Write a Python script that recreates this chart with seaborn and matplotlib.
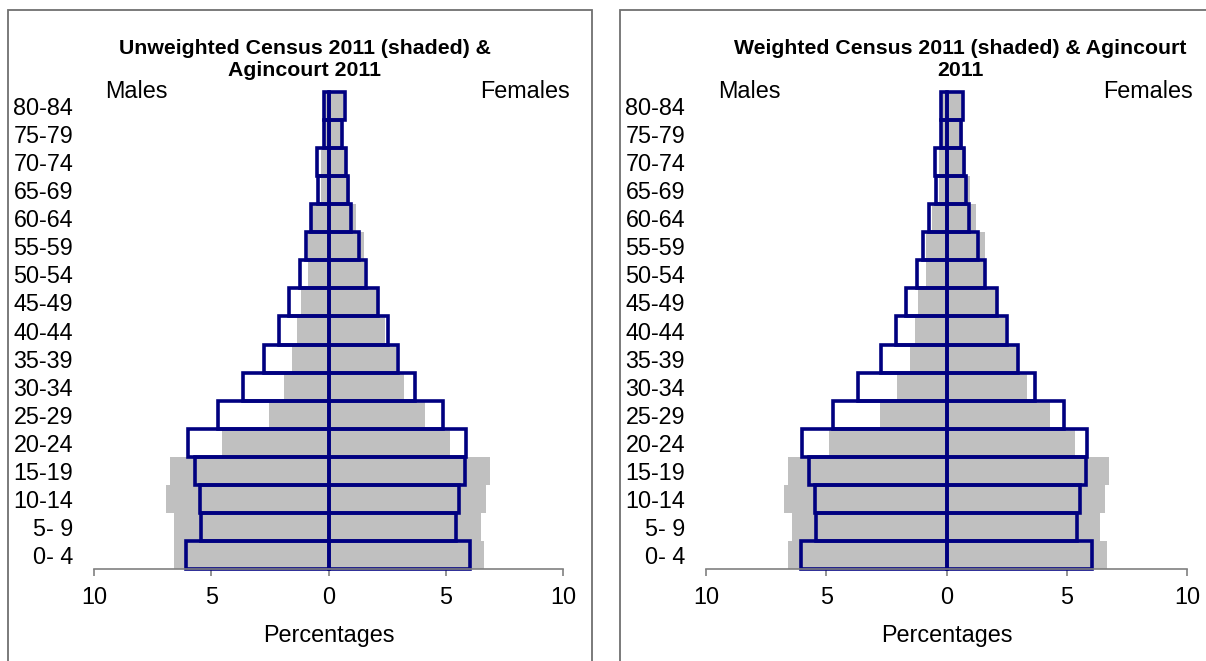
import matplotlib.pyplot as plt
import matplotlib.transforms as mtransforms
from matplotlib.patches import Rectangle
import seaborn as sns

AGE_GROUPS = ["0- 4", "5- 9", "10-14", "15-19", "20-24", "25-29", "30-34", "35-39",
              "40-44", "45-49", "50-54", "55-59", "60-64", "65-69", "70-74", "75-79", "80-84"]

# Agincourt 2011 (outlined bars)
AGIN_MALES = [6.06, 5.44, 5.46, 5.70, 6.01, 4.72, 3.66, 2.73, 2.11, 1.67, 1.21, 0.98, 0.74, 0.44, 0.47, 0.21, 0.21]
AGIN_FEMALES = [6.05, 5.42, 5.57, 5.80, 5.85, 4.89, 3.69, 2.97, 2.53, 2.12, 1.62, 1.29, 0.95, 0.83, 0.74, 0.59, 0.70]

# Census 2011 (shaded bars)
UNW_MALES = [6.58, 6.58, 6.94, 6.78, 4.56, 2.55, 1.91, 1.55, 1.34, 1.18, 0.87, 0.87, 0.70, 0.33, 0.33, 0.20, 0.20]
UNW_FEMALES = [6.63, 6.52, 6.73, 6.90, 5.16, 4.13, 3.22, 2.89, 2.40, 2.08, 1.50, 1.50, 1.18, 0.93, 0.80, 0.60, 0.60]
WGT_MALES = [6.57, 6.42, 6.77, 6.61, 4.89, 2.75, 2.04, 1.53, 1.33, 1.17, 0.85, 0.85, 0.60, 0.32, 0.32, 0.20, 0.20]
WGT_FEMALES = [6.68, 6.37, 6.58, 6.77, 5.35, 4.30, 3.34, 2.99, 2.43, 2.10, 1.55, 1.60, 1.23, 0.99, 0.83, 0.67, 0.67]

X_TICKS = [-10, -5, 0, 5, 10]
X_TICKLABELS = ["10", "5", "0", "5", "10"]

GREY = "#C0C0C0"
NAVY = "#000080"
W, H = 1206, 661
FS = 16.8


def pyramid(ax, census_m, census_f):
    order = AGE_GROUPS[::-1]
    common = dict(y=AGE_GROUPS, order=order, orient="h", width=1.0, errorbar=None, ax=ax)
    sns.barplot(x=[-v for v in census_m], color=GREY, saturation=1, linewidth=0, **common)
    sns.barplot(x=census_f, color=GREY, saturation=1, linewidth=0, **common)
    sns.barplot(x=[-v for v in AGIN_MALES], color=NAVY, fill=False, linewidth=2.6, **common)
    sns.barplot(x=AGIN_FEMALES, color=NAVY, fill=False, linewidth=2.6, **common)
    for p in ax.patches:
        p.set_clip_on(False)

    ax.set_xlim(-10, 10)
    ax.set_ylim(16.5, -0.5)
    ax.set_xticks(X_TICKS)
    ax.set_xticklabels(X_TICKLABELS)
    ax.set_ylabel("")
    ax.set_xlabel("Percentages", fontsize=FS, labelpad=11, color="black")
    for s in ["left", "top", "right"]:
        ax.spines[s].set_visible(False)
    ax.spines["bottom"].set_color("#808080")
    ax.spines["bottom"].set_linewidth(1.2)
    ax.tick_params(axis="x", bottom=True, direction="out", length=5, width=1.2, color="#808080",
                   labelsize=FS, labelcolor="black", pad=7)
    ax.tick_params(axis="y", left=False, length=0, labelsize=FS, labelcolor="black", pad=15)

    trans = mtransforms.blended_transform_factory(ax.transData, ax.transAxes)
    ax.text(-8.2, 1.0, "Males", transform=trans, ha="center", va="center",
            fontsize=FS, color="black")
    ax.text(8.38, 1.0, "Females", transform=trans, ha="center", va="center",
            fontsize=FS, color="black")


def plot():
    sns.set_theme(style="white")
    plt.rcParams["font.family"] = ["Liberation Sans", "DejaVu Sans"]

    fig = plt.figure(figsize=(W / 100, H / 100), dpi=100)
    fig.patch.set_facecolor("white")

    ax1 = fig.add_axes([94 / W, 1 - 569 / H, 469 / W, 477 / H])
    ax2 = fig.add_axes([706 / W, 1 - 569 / H, 481 / W, 477 / H])

    pyramid(ax1, UNW_MALES, UNW_FEMALES)
    pyramid(ax2, WGT_MALES, WGT_FEMALES)

    fig.text(305 / W, 1 - 60 / H, "Unweighted Census 2011 (shaded) &\nAgincourt 2011",
             ha="center", va="center", fontsize=15.3, fontweight="bold", linespacing=1.2,
             color="black")
    fig.text(960 / W, 1 - 60 / H, "Weighted Census 2011 (shaded) & Agincourt\n2011",
             ha="center", va="center", fontsize=15.3, fontweight="bold", linespacing=1.2,
             color="black")

    top = 1 - 9.5 / H
    fig.patches.append(Rectangle((8 / W, -0.1), 584 / W, top + 0.1, transform=fig.transFigure,
                                 fill=False, edgecolor="#707070", linewidth=1.3))
    fig.patches.append(Rectangle((620 / W, -0.1), 0.6, top + 0.1, transform=fig.transFigure,
                                 fill=False, edgecolor="#707070", linewidth=1.3))

    fig.savefig("out.png", dpi=100)


if __name__ == "__main__":
    plot()
